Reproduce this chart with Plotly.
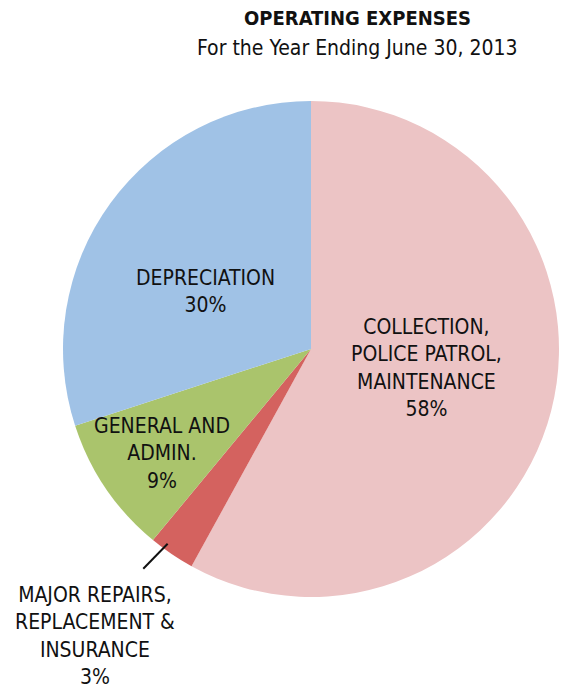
import math
import plotly.graph_objects as go

W, H = 563, 692

labels = ["COLLECTION,<br>POLICE PATROL,<br>MAINTENANCE",
          "MAJOR REPAIRS,<br>REPLACEMENT &<br>INSURANCE",
          "GENERAL AND<br>ADMIN.",
          "DEPRECIATION"]
values = [58, 3, 9, 30]
colors = ["#ecc4c5", "#d4625f", "#aac46c", "#a0c2e6"]

title_line1 = "OPERATING EXPENSES"
title_line2 = "For the Year Ending June 30, 2013"

FONT = "Liberation Sans Narrow, DejaVu Sans Condensed, Arial Narrow, sans-serif"

# pie geometry in pixels
cx, cy, r = 311, 349, 248

def px(x):
    return x / W

def py(y):
    return 1 - y / H

fig = go.Figure(go.Pie(
    labels=labels,
    values=values,
    sort=False,
    direction="clockwise",
    rotation=0,
    marker=dict(colors=colors, line=dict(width=0)),
    textinfo="none",
    hoverinfo="label+percent",
    showlegend=False,
    domain=dict(x=[px(cx - r), px(cx + r)], y=[py(cy + r), py(cy - r)]),
))

# label positions (pixel centres)
label_pos = [(426, 368), (95, 636), (162, 453), (205, 291)]
annotations = []
total = sum(values)
for lab, v, (lx, ly) in zip(labels, values, label_pos):
    pct = round(100 * v / total)
    annotations.append(dict(
        x=px(lx), y=py(ly), xref="paper", yref="paper",
        text=f"{lab}<br>{pct}%", showarrow=False,
        font=dict(family=FONT, size=21, color="#111111"),
        align="center", xanchor="center", yanchor="middle",
    ))

annotations.append(dict(x=px(358), y=py(18), xref="paper", yref="paper",
                        text=f"<b>{title_line1}</b>", showarrow=False,
                        font=dict(family=FONT, size=20, color="#111111"),
                        xanchor="center", yanchor="middle"))
annotations.append(dict(x=px(358), y=py(48), xref="paper", yref="paper",
                        text=title_line2, showarrow=False,
                        font=dict(family=FONT, size=21, color="#111111"),
                        xanchor="center", yanchor="middle"))

# leader line for the small slice (index 1), placed within its angular span
cum = sum(values[:1]) + values[1] * 0.7
ang = 2 * math.pi * cum / total
x0 = cx + 0.975 * r * math.sin(ang)
y0 = cy - 0.975 * r * math.cos(ang)
x1 = cx + 1.10 * r * math.sin(ang) - 6
y1 = cy - 1.10 * r * math.cos(ang)
shapes = [dict(type="line", xref="paper", yref="paper",
               x0=px(x0), y0=py(y0), x1=px(x1), y1=py(y1),
               line=dict(color="#111111", width=2))]

fig.update_layout(
    width=W, height=H,
    margin=dict(l=0, r=0, t=0, b=0),
    paper_bgcolor="white", plot_bgcolor="white",
    annotations=annotations, shapes=shapes,
)

fig.write_html("out.html")
